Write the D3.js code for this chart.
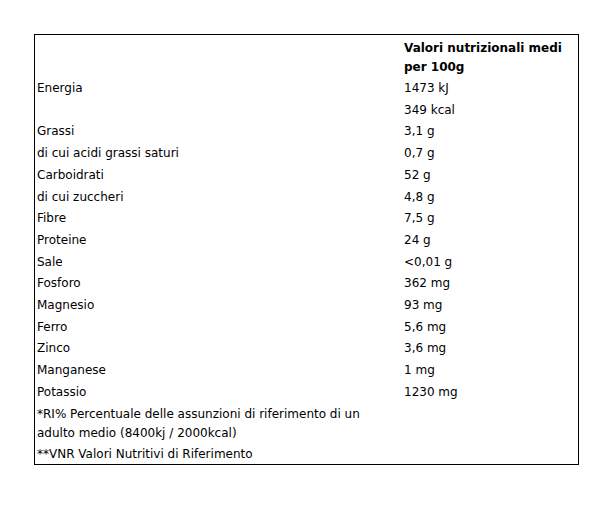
<!DOCTYPE html>
<html>
<head>
<meta charset="utf-8">
<script src="https://cdn.jsdelivr.net/npm/d3@7"></script>
<style>
  body { margin: 0; background: #fff; }
  text { font-family: "DejaVu Sans", sans-serif; font-size: 12px; fill: #000; }
</style>
</head>
<body>
<div id="chart"></div>
<script>
// intestazione della colonna
const headerLines = ["Valori nutrizionali medi", "per 100g"];

// nomi e valori
const nutrients = ["Energia", "", "Grassi", "di cui acidi grassi saturi", "Carboidrati",
  "di cui zuccheri", "Fibre", "Proteine", "Sale", "Fosforo", "Magnesio", "Ferro",
  "Zinco", "Manganese", "Potassio"];
const values = ["1473 kJ", "349 kcal", "3,1 g", "0,7 g", "52 g", "4,8 g", "7,5 g",
  "24 g", "<0,01 g", "362 mg", "93 mg", "5,6 mg", "3,6 mg", "1 mg", "1230 mg"];

// note a piè di tabella
const footnote1 = ["*RI% Percentuale delle assunzioni di riferimento di un", "adulto medio (8400kj / 2000kcal)"];
const footnote2 = "**VNR Valori Nutritivi di Riferimento";

const width = 612;
const height = 532;
const box = { left: 34.5, top: 34.5, right: 578.5, bottom: 464.5 };
const col1 = 37;
const col2 = 404;

const svg = d3.select("#chart")
  .append("svg")
  .attr("width", width)
  .attr("height", height);

svg.append("rect")
  .attr("x", box.left)
  .attr("y", box.top)
  .attr("width", box.right - box.left)
  .attr("height", box.bottom - box.top)
  .attr("fill", "none")
  .attr("stroke", "#000")
  .attr("stroke-width", 1);

// scala delle righe (centro della riga)
const y = d3.scaleLinear().domain([0, 1]).range([88, 109.7]);

// header
svg.append("g")
  .selectAll("text")
  .data(headerLines)
  .join("text")
  .attr("x", col2)
  .attr("y", (d, i) => 52 + i * 19)
  .style("font-weight", "bold")
  .text(d => d);

const rows = svg.append("g")
  .selectAll("g")
  .data(nutrients.map((n, i) => ({ name: n, value: values[i] })))
  .join("g")
  .attr("transform", (d, i) => `translate(0,${y(i) + 4})`);

rows.append("text").attr("x", col1).text(d => d.name);
rows.append("text").attr("x", col2).text(d => d.value);

// footnotes
const fy = y(nutrients.length) + 4;
svg.append("g")
  .selectAll("text")
  .data(footnote1)
  .join("text")
  .attr("x", col1)
  .attr("y", (d, i) => fy + i * 19)
  .text(d => d);

svg.append("text")
  .attr("x", col1)
  .attr("y", fy + 19 + 21.5)
  .text(footnote2);
</script>
</body>
</html>
